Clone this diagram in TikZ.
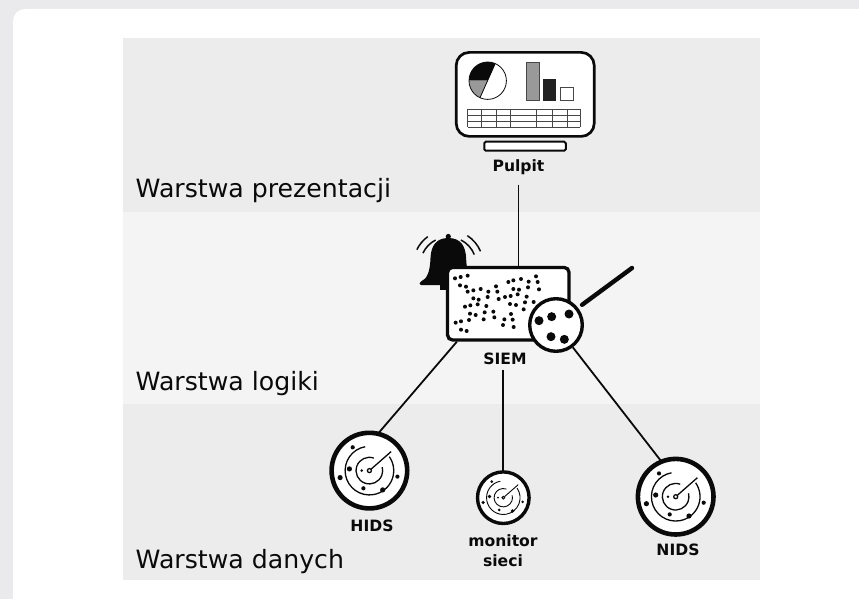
\documentclass[tikz,border=0pt]{standalone}
\usepackage{fontspec}
\setmainfont{DejaVu Sans}
\definecolor{pagebg}{HTML}{EAEAEC}
\definecolor{banda}{HTML}{ECECEC}
\definecolor{bandb}{HTML}{F4F4F4}
\definecolor{ink}{HTML}{0A0A0A}
\definecolor{midgray}{HTML}{999999}
\tikzset{
  layertext/.style={anchor=base west,inner sep=0pt,font=\fontsize{25.2}{30}\selectfont,text=ink},
  tag/.style={inner sep=0pt,font=\bfseries\fontsize{15.6}{20}\selectfont,text=ink,align=center},
  link/.style={draw=ink,line width=1.8pt},
  radarring/.style={circle,draw=ink,fill=white,inner sep=0pt,outer sep=0pt},
  speck/.style={fill=ink,draw=none},
}
\newcommand{\radarface}[3]{%
  \begin{scope}[shift={(#1,#2)},yscale=-1,scale=#3]
    \draw[ink,line width=#3*1.3pt] (0,0) circle (2);
    \draw[ink,line width=#3*1.3pt] (1.5,1.3) -- (21.7,19);
    \draw[ink,line width=#3*1.3pt] (4.5,12.5) arc (70:375:13.3);
    \draw[ink,line width=#3*1.3pt] (-4.2,23.9) arc (100:395:24.3);
    \foreach \a/\b/\r in {-16.7/23.3/2.1,-20/1.7/2.6,-29.3/-7/2.6,-7.7/0/1.4,-6/-17.7/2.1,13.3/-19.3/2.6,28/-6/2.1}
      \fill[speck] (\a,\b) circle (\r);
  \end{scope}}
\begin{document}
\begin{tikzpicture}[x=1pt,y=1pt,yscale=-1]
\useasboundingbox (0,0) rectangle (859,599);
\fill[pagebg] (0,0) rectangle (859,599);
\fill[white,rounded corners=12pt] (13,9) rectangle (900,610);
\fill[banda] (123,38) rectangle (760,212);
\fill[bandb] (123,212) rectangle (760,404);
\fill[banda] (123,404) rectangle (760,580);
\node[layertext] (lp) at (135.5,197) {Warstwa prezentacji};
\node[layertext] (ll) at (135.5,390.7) {Warstwa logiki};
\node[layertext] (ld) at (135.5,568.7) {Warstwa danych};

% nodes
\node[draw=ink,line width=2.7pt,fill=white,rounded corners=13pt,inner sep=0pt,minimum width=138pt,minimum height=84pt] (screen) at (525.2,94.4) {};
\node[draw=ink,line width=2pt,fill=white,rounded corners=1.5pt,inner sep=0pt,minimum width=81.5pt,minimum height=9pt] (stand) at (525,146.2) {};
\node[tag] (pulpit) at (518.5,167) {Pulpit};
\node[tag] (siemtag) at (505,358.5) {SIEM};
\node[radarring,line width=4.6pt,minimum size=75.6pt] (hids) at (369.4,470.6) {};
\node[radarring,line width=3.4pt,minimum size=51.6pt] (mon) at (503.3,497.7) {};
\node[radarring,line width=4.6pt,minimum size=75.6pt] (nids) at (675.7,496.7) {};
\node[tag] (hidstag) at (372,525.5) {HIDS};
\node[tag] (montag) at (503,551) {monitor\\sieci};
\node[tag] (nidstag) at (678,549.7) {NIDS};

% bell
\fill[ink] (448.3,236.5) circle (2.6);
\fill[ink] (448.3,238) .. controls (436,238) and (431,246) .. (430.5,258)
  .. controls (430,272) and (427,279) .. (421,281.5) .. controls (419,282.5) and (419,285) .. (421,285)
  -- (475.6,285) .. controls (477.6,285) and (477.6,282.5) .. (475.6,281.5)
  .. controls (469.6,279) and (466.6,272) .. (466.1,258) .. controls (465.6,246) and (460.6,238) .. (448.3,238) -- cycle;
\fill[ink] (440,284) rectangle (447,290);
\begin{scope}[shift={(448.3,265)},yscale=-1]
  \draw[ink,line width=1.5pt] (126:35pt) arc (126:154:35pt);
  \draw[ink,line width=1.5pt] (117:28pt) arc (117:155:28pt);
  \draw[ink,line width=1.5pt] (23:35pt) arc (23:57:35pt);
  \draw[ink,line width=1.5pt] (22:28pt) arc (22:63:28pt);
\end{scope}

\node[draw=ink,line width=3.3pt,fill=white,rounded corners=5pt,inner sep=0pt,minimum width=121.5pt,minimum height=72.6pt] (siem) at (508.3,303.7) {};
\foreach \a/\b in {135/160,152/156,173/152,150/181,168/185,173/200,190/196,212/192,258/184,262/200,235/200,233/216,190/220,206/224,203/238,181/241,165/245,229/243,266/222,285/216,302/213,323/208,310/192,327/194,354/187,356/170,333/162,310/166,295/171,378/154,383/171,387/193,350/215,345/232,371/231,341/253,318/240,300/237,224/262,250/260,180/266,197/270,177/285,153/289,137/293,221/283,253/277,283/283,303/267,308/284,279/300,311/306,153/314,170/318}
  \fill[speck] ({410+\a/3},{225+\b/3}) circle (2);

\node[circle,draw=ink,line width=3.4pt,fill=white,inner sep=0pt,minimum size=52.6pt] (lens) at (556,325) {};
\coordinate (handletip) at (632,268);
\draw[ink,line width=4.4pt,line cap=round,shorten <=5pt] (lens.38) -- (handletip);
\foreach \a/\b in {387/287,425/275,477/267,423/335,463/343}
  \fill[speck] ({410+\a/3},{225+\b/3}) circle (4.5);

% connectors
\draw[link] ([yshift=10pt]pulpit.south) -- (pulpit.south |- siem.north);
\draw[link] ([xshift=11pt]siem.south west) -- (hids.77);
\draw[link] ([yshift=5pt]siemtag.south -| mon.north) -- (mon.north);
\draw[link] (lens.-53.5) -- (nids.112);

\radarface{369.4}{470.6}{1}
\radarface{503.3}{497.7}{0.69}
\radarface{675.7}{496.7}{1}

% pulpit contents
\fill[white] (487.7,80.7) circle (18.7);
\fill[ink] (487.7,80.7) -- +(-66:18.7) arc (-66:-180:18.7) -- cycle;
\fill[midgray] (487.7,80.7) -- +(180:18.7) arc (180:114:18.7) -- cycle;
\draw[ink,line width=0.8pt] (487.7,80.7) circle (18.7);
\draw[ink,line width=0.8pt] (480,97.7) -- (495.2,63.6);
\draw[ink!75,line width=1pt,fill=midgray] (526.3,63) rectangle (539.7,100.7);
\fill[ink!90] (543,78.7) rectangle (556.3,100.7);
\draw[ink!75,line width=1pt,fill=white] (560.3,87.3) rectangle (573.7,100.7);
\foreach \y in {109.3,115.3,121,127}
  \draw[ink!75,line width=0.8pt] (467.7,\y) -- (580.3,\y);
\foreach \x in {467.7,481.7,496,510.3,536.7,552.3,567.3,580.3}
  \draw[ink!75,line width=0.8pt] (\x,109.3) -- (\x,127);
\end{tikzpicture}
\end{document}
